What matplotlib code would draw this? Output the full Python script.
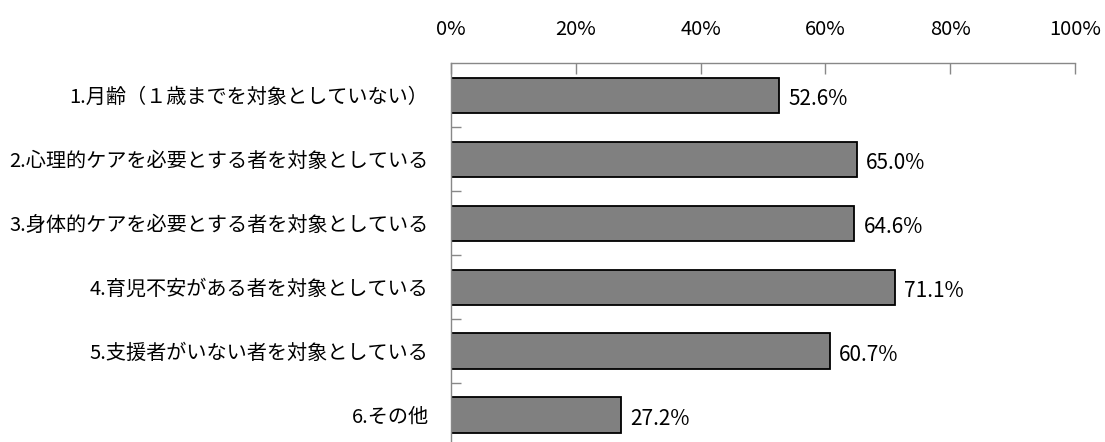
import numpy as np
import matplotlib
matplotlib.use("Agg")
import matplotlib.pyplot as plt
from matplotlib.ticker import FixedLocator

plt.rcParams['font.family'] = ['Noto Sans CJK JP', 'DejaVu Sans']

# 各項目と割合（%）
labels = [
    "1.月齢（１歳までを対象としていない）",
    "2.心理的ケアを必要とする者を対象としている",
    "3.身体的ケアを必要とする者を対象としている",
    "4.育児不安がある者を対象としている",
    "5.支援者がいない者を対象としている",
    "6.その他",
]
values = [52.6, 65.0, 64.6, 71.1, 60.7, 27.2]
xticks = [0, 20, 40, 60, 80, 100]

fig = plt.figure(figsize=(11.05, 4.42), dpi=100)
ax = fig.add_axes([0.408, -0.0113, 0.565, 0.868])

y = np.arange(len(labels))
ax.barh(y, values, height=0.55, color="#808080", edgecolor="black", linewidth=1.3)

for yi, v in zip(y, values):
    ax.text(v + 1.5, yi + 0.06, f"{v:.1f}%", va="center", ha="left", fontsize=15)

ax.set_xlim(0, 100)
ax.set_ylim(len(labels) - 0.5, -0.5)

ax.xaxis.tick_top()
ax.set_xticks(xticks)
ax.set_xticklabels([f"{t}%" for t in xticks], fontsize=14.5)
ax.tick_params(axis="x", direction="in", length=8, width=1, color="#888888", pad=17)

ax.set_yticks(y)
ax.set_yticklabels(labels, fontsize=14.5)
ax.tick_params(axis="y", which="major", length=0, pad=16)
ax.yaxis.set_minor_locator(FixedLocator(np.arange(0.5, len(labels) - 0.5, 1)))
ax.tick_params(axis="y", which="minor", direction="in", length=7, width=1, color="#888888")

for side in ["right", "bottom"]:
    ax.spines[side].set_visible(False)
for side in ["top", "left"]:
    ax.spines[side].set_color("#888888")
    ax.spines[side].set_linewidth(1)

fig.savefig("out.png", dpi=100)
